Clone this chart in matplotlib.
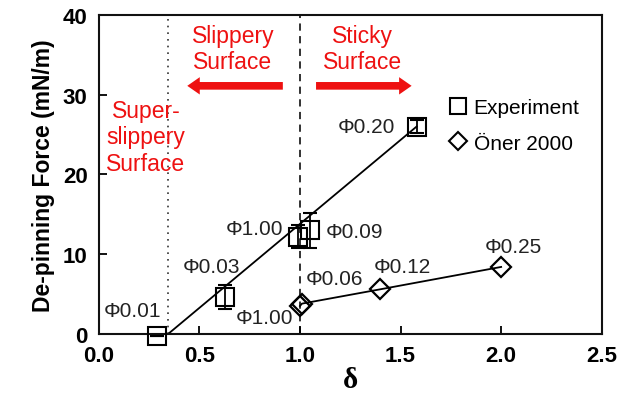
import matplotlib
matplotlib.use("Agg")
import matplotlib.pyplot as plt
from matplotlib.lines import Line2D

# experiment (squares)
exp_delta = [0.29, 0.63, 0.99, 1.05, 1.58]
exp_force = [-0.3, 4.6, 12.2, 13.0, 26.0]
exp_err = [0.0, 1.5, 1.4, 2.2, 0.8]
exp_labels = ["Φ0.01", "Φ0.03", "Φ1.00", "Φ0.09", "Φ0.20"]
exp_label_pos = [(0.17, 2.9), (0.56, 8.4), (0.775, 13.2), (1.27, 12.9), (1.33, 26.0)]

# fitted line for experiment
fit_delta = [0.345, 1.58]
fit_force = [0.0, 26.0]

# Oner 2000 (diamonds)
oner_delta = [1.0, 1.01, 1.40, 2.0]
oner_force = [3.5, 3.8, 5.6, 8.4]
oner_labels = ["Φ1.00", "Φ0.06", "Φ0.12", "Φ0.25"]
oner_label_pos = [(0.825, 2.1), (1.17, 6.9), (1.51, 8.4), (2.06, 11.0)]

super_slip_delta = 0.345
slip_delta = 1.0

plt.rcParams["font.family"] = ["Liberation Sans", "DejaVu Sans"]

fig = plt.figure(figsize=(6.21, 4.06), dpi=100)
ax = fig.add_axes([0.159, 0.175, 0.81, 0.786])

ax.axvline(super_slip_delta, color="#333333", ls=(0, (1, 3)), lw=1.2, zorder=1)
ax.axvline(slip_delta, color="#222222", ls=(0, (4, 3)), lw=1.3, zorder=1)

ax.plot(fit_delta, fit_force, color="black", lw=1.3, zorder=2)
ax.plot(oner_delta, oner_force, color="black", lw=1.3, zorder=2)

ax.errorbar(exp_delta, exp_force, yerr=exp_err, fmt="s", ms=13, mfc="none",
            mec="black", mew=1.5, ecolor="black", elinewidth=1.3, capsize=5,
            capthick=1.3, zorder=3, clip_on=False)
ax.plot(oner_delta, oner_force, "D", ms=10, mfc="none", mec="black", mew=1.6,
        zorder=3, clip_on=False)

for lab, (x, y) in zip(exp_labels + oner_labels, exp_label_pos + oner_label_pos):
    ax.text(x, y, lab, fontsize=15, ha="center", va="center", color="#222222")

red = "#ee1111"
ax.text(0.667, 35.8, "Slippery\nSurface", color=red, fontsize=16.5, ha="center",
        va="center", linespacing=1.2)
ax.text(1.31, 35.8, "Sticky\nSurface", color=red, fontsize=16.5, ha="center",
        va="center", linespacing=1.2)
ax.text(0.235, 24.7, "Super-\nslippery\nSurface", color=red, fontsize=16.5,
        ha="center", va="center", linespacing=1.2)

arrow = dict(arrowstyle="simple,head_width=12.5,head_length=9,tail_width=5.5",
             mutation_scale=1, color=red, lw=0, shrinkA=0, shrinkB=0)
ax.annotate("", xy=(0.44, 31.1), xytext=(0.915, 31.1), arrowprops=arrow)
ax.annotate("", xy=(1.555, 31.1), xytext=(1.08, 31.1), arrowprops=arrow)

handles = [
    Line2D([], [], marker="s", ls="none", ms=12, mfc="none", mec="black", mew=1.5),
    Line2D([], [], marker="D", ls="none", ms=9, mfc="none", mec="black", mew=1.5),
]
ax.legend(handles, ["Experiment", "Öner 2000"], loc="upper left",
          bbox_to_anchor=(0.675, 0.772), frameon=False, fontsize=15,
          handlelength=0.9, handletextpad=0.3, labelspacing=0.8, borderpad=0)

ax.set_xlim(0, 2.5)
ax.set_ylim(0, 40)
ax.set_xticks([0.0, 0.5, 1.0, 1.5, 2.0, 2.5])
ax.set_yticks([0, 10, 20, 30, 40])
ax.xaxis.set_major_formatter(matplotlib.ticker.FormatStrFormatter("%.1f"))
ax.tick_params(direction="in", length=6, width=1.3, labelsize=16, pad=8)
for t in ax.get_xticklabels() + ax.get_yticklabels():
    t.set_fontweight("bold")
for s in ax.spines.values():
    s.set_linewidth(1.5)
    s.set_color("#111111")

ax.set_ylabel("De-pinning Force (mN/m)", fontsize=16.5, fontweight="bold", labelpad=6)
ax.set_xlabel("δ", fontsize=21, fontweight="bold", family=["Liberation Serif"], labelpad=0)

fig.savefig("out.png", dpi=100)
